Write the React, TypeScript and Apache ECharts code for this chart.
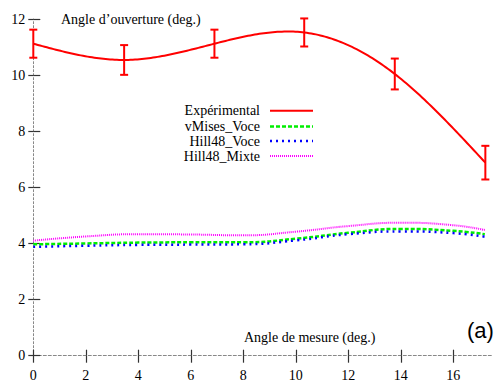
import React, { useEffect, useRef } from "react";
import * as echarts from "echarts";

// Experimental data
const expX = [0, 3.46, 6.9, 10.32, 13.77, 17.22];
const expY = [11.12, 10.54, 11.12, 11.52, 10.04, 6.88];
const expErr = [0.5, 0.53, 0.5, 0.5, 0.55, 0.6];

// Model curves
const modelX = [0, 2, 4, 6, 8, 10, 12, 14, 16, 17.2];
const vMisesVoce = [3.97, 4.0, 4.03, 4.04, 4.04, 4.17, 4.38, 4.52, 4.45, 4.33];
const hill48Voce = [3.88, 3.92, 3.95, 3.96, 3.97, 4.11, 4.33, 4.43, 4.37, 4.24];
const hill48Mixte = [4.1, 4.25, 4.33, 4.32, 4.29, 4.42, 4.62, 4.74, 4.65, 4.48];

const xTicks = [0, 2, 4, 6, 8, 10, 12, 14, 16];
const legendNames = ["Expérimental", "vMises_Voce", "Hill48_Voce", "Hill48_Mixte"];
const yTitle = "Angle d’ouverture (deg.)";
const xTitle = "Angle de mesure (deg.)";
const panelTag = "(a)";

const SERIF = "'Liberation Serif', 'Times New Roman', serif";

// natural cubic spline (like gnuplot "smooth csplines") evaluated at render time
function makeSpline(xs: number[], ys: number[]) {
  const n = xs.length;
  const h: number[] = [];
  for (let i = 0; i < n - 1; i++) h.push(xs[i + 1] - xs[i]);
  const M = new Array(n).fill(0);
  const a: number[] = [], b: number[] = [], c: number[] = [], d: number[] = [];
  for (let i = 1; i < n - 1; i++) {
    a.push(h[i - 1]);
    b.push(2 * (h[i - 1] + h[i]));
    c.push(h[i]);
    d.push(6 * ((ys[i + 1] - ys[i]) / h[i] - (ys[i] - ys[i - 1]) / h[i - 1]));
  }
  const m = b.length;
  for (let i = 1; i < m; i++) {
    const w = a[i] / b[i - 1];
    b[i] -= w * c[i - 1];
    d[i] -= w * d[i - 1];
  }
  const sol = new Array(m).fill(0);
  for (let i = m - 1; i >= 0; i--) {
    sol[i] = (d[i] - (i < m - 1 ? c[i] * sol[i + 1] : 0)) / b[i];
  }
  for (let i = 0; i < m; i++) M[i + 1] = sol[i];
  return (x: number) => {
    let i = 0;
    while (i < n - 2 && x > xs[i + 1]) i++;
    const hi = h[i];
    const A = (xs[i + 1] - x) / hi;
    const B = (x - xs[i]) / hi;
    return (
      A * ys[i] +
      B * ys[i + 1] +
      ((A * A * A - A) * M[i] + (B * B * B - B) * M[i + 1]) * (hi * hi) / 6
    );
  };
}

export default function App() {
  const ref = useRef<HTMLDivElement>(null);
  useEffect(() => {
    if (!ref.current) return;
    const chart = echarts.init(ref.current, null, { renderer: "svg" });
    const pair = (xs: number[], ys: number[]) => xs.map((x, i) => [x, ys[i]]);
    const errData = expX.map((x, i) => [x, expY[i], expY[i] - expErr[i], expY[i] + expErr[i]]);
    const spline = makeSpline(expX, expY);

    const legendStyles = [
      { color: "#ff0000", dash: undefined as any, width: 2 },
      { color: "#00ee00", dash: [4, 2], width: 2.5 },
      { color: "#0000ff", dash: [2, 4], width: 2.5 },
      { color: "#ff00ff", dash: [1, 1], width: 2 },
    ];
    const legendY = [110.7, 126.5, 141, 156];
    const legendGraphics: any[] = [];
    legendNames.forEach((name, i) => {
      legendGraphics.push({
        type: "text",
        x: 260,
        y: legendY[i],
        style: {
          text: name,
          align: "right",
          verticalAlign: "middle",
          fontFamily: SERIF,
          fontSize: 14,
          fill: "#000",
        },
      });
      legendGraphics.push({
        type: "line",
        shape: { x1: 270, y1: legendY[i], x2: 313, y2: legendY[i] },
        style: {
          stroke: legendStyles[i].color,
          lineWidth: legendStyles[i].width,
          lineDash: legendStyles[i].dash,
        },
      });
    });

    const option: any = {
      animation: false,
      textStyle: { fontFamily: SERIF },
      grid: { left: 33.3, top: 19, width: 459.4, height: 336.7 },
      xAxis: [
        {
          type: "value",
          min: 0,
          max: 17.5,
          position: "bottom",
          splitLine: { show: false },
          axisLine: { show: true, lineStyle: { color: "#888", type: [3, 2], width: 1 } },
          axisTick: { show: true, inside: false, length: 7, customValues: xTicks, lineStyle: { color: "#333", width: 1.2 } },
          axisLabel: {
            customValues: xTicks,
            margin: 13,
            color: "#000",
            fontFamily: SERIF,
            fontSize: 14,
          },
        },
        {
          type: "value",
          min: 0,
          max: 17.5,
          position: "bottom",
          splitLine: { show: false },
          axisLine: { show: false },
          axisTick: { show: true, inside: true, length: 6, customValues: xTicks, lineStyle: { color: "#333", width: 1.2 } },
          axisLabel: { show: false },
        },
      ],
      yAxis: [
        {
          type: "value",
          min: 0,
          max: 12,
          interval: 2,
          position: "left",
          splitLine: { show: false },
          axisLine: { show: true, lineStyle: { color: "#888", type: [2, 2], width: 1 } },
          axisTick: { show: true, inside: false, length: 5, lineStyle: { color: "#333", width: 1.2 } },
          axisLabel: { margin: 8, color: "#000", fontFamily: SERIF, fontSize: 14 },
        },
        {
          type: "value",
          min: 0,
          max: 12,
          interval: 2,
          position: "left",
          splitLine: { show: false },
          axisLine: { show: false },
          axisTick: { show: true, inside: true, length: 7, lineStyle: { color: "#333", width: 1.2 } },
          axisLabel: { show: false },
        },
      ],
      graphic: [
        {
          type: "text",
          x: 61,
          y: 19,
          style: { text: yTitle, verticalAlign: "middle", fontFamily: SERIF, fontSize: 14, fill: "#000" },
        },
        {
          type: "text",
          x: 244,
          y: 337,
          style: { text: xTitle, verticalAlign: "middle", fontFamily: SERIF, fontSize: 14, fill: "#000" },
        },
        {
          type: "text",
          x: 467,
          y: 330,
          style: { text: panelTag, verticalAlign: "middle", fontFamily: "'Liberation Sans', Arial, sans-serif", fontSize: 22, fill: "#000" },
        },
        ...legendGraphics,
      ],
      series: [
        {
          name: "Hill48_Mixte",
          type: "line",
          data: pair(modelX, hill48Mixte),
          smooth: true,
          symbol: "none",
          lineStyle: { color: "#ff00ff", width: 2, type: [1, 1] },
        },
        {
          name: "vMises_Voce",
          type: "line",
          data: pair(modelX, vMisesVoce),
          smooth: true,
          symbol: "none",
          lineStyle: { color: "#00ee00", width: 2.5, type: [4, 2] },
        },
        {
          name: "Hill48_Voce",
          type: "line",
          data: pair(modelX, hill48Voce),
          smooth: true,
          symbol: "none",
          lineStyle: { color: "#0000ff", width: 2.5, type: [2, 4] },
        },
        {
          name: "Expérimental",
          type: "custom",
          data: errData,
          renderItem: (params: any, api: any) => {
            const x = api.value(0);
            const lo = api.coord([x, api.value(2)]);
            const hi = api.coord([x, api.value(3)]);
            const w = 4;
            const st = { stroke: "#ff0000", lineWidth: 2 };
            const children: any[] = [
              { type: "line", shape: { x1: lo[0], y1: lo[1], x2: hi[0], y2: hi[1] }, style: st },
              { type: "line", shape: { x1: lo[0] - w, y1: lo[1], x2: lo[0] + w, y2: lo[1] }, style: st },
              { type: "line", shape: { x1: hi[0] - w, y1: hi[1], x2: hi[0] + w, y2: hi[1] }, style: st },
            ];
            if (params.dataIndex === 0) {
              const x0 = expX[0];
              const x1 = expX[expX.length - 1];
              const pts: number[][] = [];
              const N = 200;
              for (let k = 0; k <= N; k++) {
                const xx = x0 + ((x1 - x0) * k) / N;
                pts.push(api.coord([xx, spline(xx)]));
              }
              children.push({
                type: "polyline",
                shape: { points: pts },
                style: { stroke: "#ff0000", lineWidth: 2, fill: "none" },
              });
            }
            return { type: "group", children };
          },
        },
      ],
    };
    chart.setOption(option);
    return () => chart.dispose();
  }, []);
  return (
    <div
      ref={ref}
      style={{ position: "fixed", left: 0, top: 0, width: 497, height: 383, background: "#fff" }}
    />
  );
}
